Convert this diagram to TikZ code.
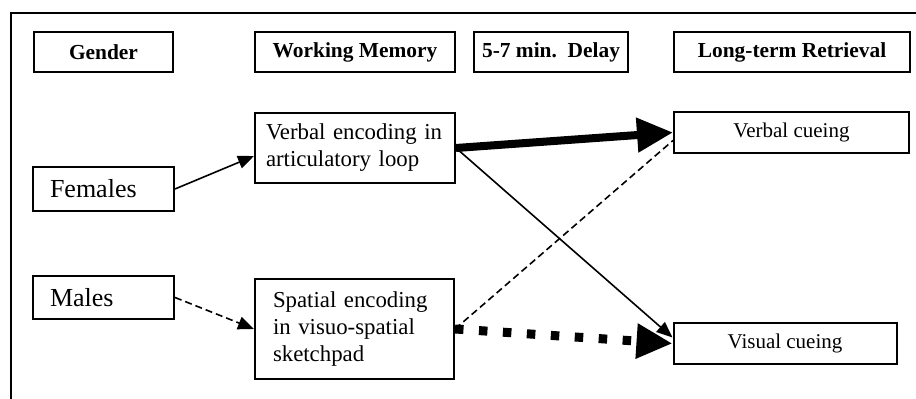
\documentclass[tikz,border=0pt]{standalone}
\usepackage{fontspec}
\setmainfont{Liberation Serif}
\usetikzlibrary{arrows.meta}

\begin{document}
\begin{tikzpicture}[x=0.5pt,y=-0.5pt,line width=0.8pt,
                    >={Triangle[length=8pt,width=6.5pt]}]
  \tikzstyle{box}=[draw,line width=1pt,inner ysep=0pt]
  \tikzstyle{head}=[box,font=\fontsize{10.7}{12}\selectfont\bfseries,
                    minimum height=20pt]
  \tikzstyle{group}=[box,font=\fontsize{13}{15}\selectfont,align=left,
                     inner xsep=8.5pt,text width=53.5pt]
  \tikzstyle{encode}=[box,font=\fontsize{11.4}{13.5}\selectfont,align=left]
  \tikzstyle{cue}=[box,font=\fontsize{10.5}{12}\selectfont,minimum height=20.5pt]
  \tikzstyle{strong}=[->,line width=4pt,>={Triangle[length=18pt,width=16.5pt]}]

  \useasboundingbox (0,0) rectangle (916,399);
  \draw[line width=0.9pt] (11,399) -- (11,13) -- (916,13);

  % column heads
  \node[head,minimum width=69.5pt] (GEN) at (103.5,52) {Gender};
  \node[head,minimum width=100pt]  (WM)  at (355,52)   {Working Memory};
  \node[head,minimum width=77pt]   (DEL) at (551,52)   {5-7 min.\ \ Delay};
  \node[head,minimum width=118pt]  (LTR) at (792,52)   {Long-term Retrieval};

  % gender
  \node[group,minimum height=22pt]   (FEM) at (103.5,189)   {Females};
  \node[group,minimum height=21.5pt] (MAL) at (103.5,297.5) {Males};

  % working memory
  \node[encode,inner xsep=5.5pt,text width=89pt,minimum height=35pt]
        (VE) at (355,148) {Verbal encoding in\\articulatory loop};
  \node[encode,inner xsep=9pt,text width=81.5pt,minimum height=50pt]
        (SE) at (354.5,329) {Spatial encoding\\in visuo-spatial\\sketchpad};

  % retrieval
  \node[cue,minimum width=117.5pt] (VC) at (791.5,132.5) {Verbal cueing};
  \node[cue,minimum width=111.5pt] (VIS) at (785,343.5) {Visual cueing};

  \draw[->] (FEM.east) -- ([yshift=-4pt]VE.west);
  \draw[->,dash pattern=on 3.5pt off 2pt] (MAL.east) -- (SE.west);
  \draw[->] (VE.east) -- ([yshift=3pt]VIS.west);
  \draw[dash pattern=on 3.5pt off 2pt] (SE.east) -- ([yshift=-4pt]VC.west);
  \draw[strong] (VE.east) -- (VC.west);
  \draw[strong,line width=4.5pt,dash pattern=on 4.25pt off 7.75pt]
        (SE.east) -- (VIS.west);
\end{tikzpicture}
\end{document}
